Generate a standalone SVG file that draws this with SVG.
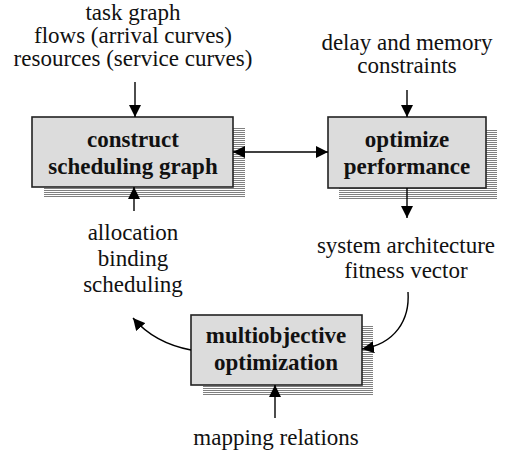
<svg xmlns="http://www.w3.org/2000/svg" width="505" height="461" viewBox="0 0 505 461">
<style>
  .lbl { font-family: "Liberation Serif", "Times New Roman", serif; font-size: 23px; fill: #111; text-anchor: middle; }
  .ttl { font-family: "Liberation Serif", "Times New Roman", serif; font-size: 23px; font-weight: bold; fill: #111; text-anchor: middle; }
  .box { fill: #dcdcdc; stroke: #222; stroke-width: 1.6; }
  .shadow { fill: url(#stripes); }
  .edge { fill: none; stroke: #000; stroke-width: 1.4; }
</style>
<defs>
  <pattern id="stripes" width="4" height="2" patternUnits="userSpaceOnUse">
    <rect x="0" y="0" width="4" height="1" fill="#808080"/>
  </pattern>
  <marker id="ah" viewBox="0 0 10 10" refX="10" refY="5" markerWidth="12" markerHeight="12" markerUnits="userSpaceOnUse" orient="auto-start-reverse">
    <path d="M0,0 L10,5 L0,10 z" fill="#000"/>
  </marker>
</defs>
<rect width="505" height="461" fill="#fff"/>

<g id="construct">
  <rect class="shadow" x="44" y="128" width="201" height="70"/>
  <rect class="box" x="32" y="117" width="201" height="70"/>
  <text class="ttl" x="133" y="147">construct</text>
  <text class="ttl" x="133" y="174">scheduling graph</text>
</g>

<g id="optimize">
  <rect class="shadow" x="339" y="129" width="158" height="70"/>
  <rect class="box" x="328" y="117" width="158" height="71"/>
  <text class="ttl" x="407" y="147">optimize</text>
  <text class="ttl" x="407" y="174">performance</text>
</g>

<g id="multiobjective">
  <rect class="shadow" x="203" y="326" width="170" height="69"/>
  <rect class="box" x="191" y="315" width="171" height="70"/>
  <text class="ttl" x="276" y="343">multiobjective</text>
  <text class="ttl" x="276" y="370">optimization</text>
</g>

<g id="inputs">
  <text class="lbl" x="133" y="20">task graph</text>
  <text class="lbl" x="133" y="43">flows (arrival curves)</text>
  <text class="lbl" x="133" y="66">resources (service curves)</text>
</g>

<g id="constraints">
  <text class="lbl" x="407" y="50">delay and memory</text>
  <text class="lbl" x="407" y="73">constraints</text>
</g>

<g id="architecture">
  <text class="lbl" x="406" y="253">system architecture</text>
  <text class="lbl" x="406" y="278">fitness vector</text>
</g>

<g id="decisions">
  <text class="lbl" x="133" y="240">allocation</text>
  <text class="lbl" x="133" y="266">binding</text>
  <text class="lbl" x="133" y="292">scheduling</text>
</g>

<g id="mapping">
  <text class="lbl" x="276" y="445">mapping relations</text>
</g>

<g id="connectors">
  <line class="edge" x1="135" y1="82" x2="135" y2="117" marker-end="url(#ah)"/>
  <line class="edge" x1="407" y1="90" x2="407" y2="117" marker-end="url(#ah)"/>
  <line class="edge" x1="233" y1="152" x2="328" y2="152" marker-start="url(#ah)" marker-end="url(#ah)"/>
  <line class="edge" x1="407" y1="188" x2="407" y2="218" marker-end="url(#ah)"/>
  <line class="edge" x1="134" y1="211" x2="134" y2="187" marker-end="url(#ah)"/>
  <path class="edge" d="M191,350 C170,346 150,338 133,318" marker-end="url(#ah)"/>
  <path class="edge" d="M408,292 C410,320 395,344 362,349" marker-end="url(#ah)"/>
  <line class="edge" x1="275" y1="418" x2="275" y2="385" marker-end="url(#ah)"/>
</g>
</svg>
